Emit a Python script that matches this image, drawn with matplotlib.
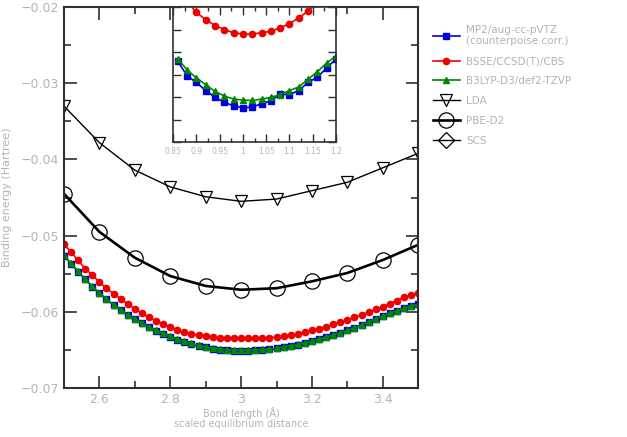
import numpy as np
import matplotlib
matplotlib.use("Agg")
import matplotlib.pyplot as plt

# ---- data ----
x_fine = np.round(np.arange(2.5, 3.5001, 0.02), 2)
e_blue = [-0.05263, -0.05368, -0.05473, -0.05574, -0.05670, -0.05758, -0.05836, -0.05911,
          -0.05976, -0.06042, -0.06099, -0.06151, -0.06204, -0.06248, -0.06291, -0.06331,
          -0.06366, -0.06396, -0.06423, -0.06449, -0.06466, -0.06484, -0.06497, -0.06506,
          -0.06510, -0.06510, -0.06510, -0.06506, -0.06501, -0.06493, -0.06480, -0.06466,
          -0.06449, -0.06431, -0.06409, -0.06387, -0.06361, -0.06335, -0.06304, -0.06274,
          -0.06243, -0.06208, -0.06173, -0.06133, -0.06094, -0.06055, -0.06020, -0.05985,
          -0.05954, -0.05928, -0.05902]
e_red = [-0.05115, -0.05215, -0.05325, -0.05434, -0.05517, -0.05609, -0.05692, -0.05762,
         -0.05828, -0.05898, -0.05959, -0.06020, -0.06073, -0.06116, -0.06164, -0.06195,
         -0.06239, -0.06265, -0.06291, -0.06304, -0.06318, -0.06335, -0.06344, -0.06348,
         -0.06348, -0.06348, -0.06348, -0.06348, -0.06348, -0.06340, -0.06331, -0.06318,
         -0.06304, -0.06291, -0.06270, -0.06243, -0.06221, -0.06195, -0.06164, -0.06138,
         -0.06108, -0.06073, -0.06038, -0.06007, -0.05968, -0.05933, -0.05893, -0.05854,
         -0.05810, -0.05780, -0.05758]
e_green = [-0.05258, -0.05363, -0.05468, -0.05569, -0.05665, -0.05752, -0.05830, -0.05905,
           -0.05970, -0.06036, -0.06093, -0.06145, -0.06197, -0.06241, -0.06284, -0.06323,
           -0.06358, -0.06388, -0.06414, -0.06440, -0.06457, -0.06475, -0.06488, -0.06497,
           -0.06501, -0.06502, -0.06502, -0.06499, -0.06494, -0.06487, -0.06475, -0.06461,
           -0.06445, -0.06428, -0.06406, -0.06384, -0.06359, -0.06333, -0.06302, -0.06272,
           -0.06241, -0.06206, -0.06171, -0.06131, -0.06092, -0.06053, -0.06018, -0.05983,
           -0.05952, -0.05925, -0.05898]

x_coarse = np.round(np.arange(2.5, 3.5001, 0.1), 1)
e_tri = [-0.0330, -0.0378, -0.0414, -0.0436, -0.0449, -0.0455, -0.0452, -0.0441,
         -0.0430, -0.0411, -0.0392]
e_circ = [-0.0445, -0.0495, -0.0529, -0.0553, -0.0566, -0.0571, -0.0569, -0.0560,
          -0.0549, -0.0532, -0.0512]

# inset (scaled distance)
x_in = np.round(np.arange(0.86, 1.2001, 0.02), 2)
in_blue = [-0.06410, -0.06442, -0.06457, -0.06475, -0.06490, -0.06501, -0.06509, -0.06513,
           -0.06512, -0.06504, -0.06498, -0.06483, -0.06484, -0.06475, -0.06457, -0.06445,
           -0.06425, -0.06405]
in_green = [-0.06405, -0.06429, -0.06447, -0.06462, -0.06477, -0.06487, -0.06494, -0.06496,
            -0.06497, -0.06494, -0.06490, -0.06484, -0.06475, -0.06467, -0.06450, -0.06433,
            -0.06414, -0.06398]
in_red = [-0.06229, -0.06277, -0.06302, -0.06318, -0.06331, -0.06340, -0.06347, -0.06350,
          -0.06350, -0.06347, -0.06344, -0.06336, -0.06327, -0.06314, -0.06299, -0.06281,
          -0.06259, -0.06233]

labels = ["MP2/aug-cc-pVTZ\n(counterpoise corr.)",
          "BSSE/CCSD(T)/CBS",
          "B3LYP-D3/def2-TZVP",
          "LDA",
          "PBE-D2",
          "SCS"]

txt = '#b4b4b4'
spine = '#303030'

fig = plt.figure(figsize=(6.27, 4.37), dpi=100)
ax = fig.add_axes([0.102, 0.112, 0.565, 0.872])

ax.plot(x_fine, e_blue, '-s', color='#0000dd', ms=4, lw=1.2, label=labels[0])
ax.plot(x_fine, e_red, '-o', color='#ee0000', ms=4.5, lw=1.2, label=labels[1])
ax.plot(x_fine, e_green, '-^', color='#008800', ms=4.5, lw=1.2, label=labels[2])
ax.plot(x_coarse, e_tri, '-v', color='black', mfc='none', ms=9, mew=0.9, lw=1.0,
        label=labels[3])
ax.plot(x_coarse, e_circ, '-o', color='black', mfc='none', ms=11, mew=0.9, lw=1.9,
        label=labels[4])
ax.plot([], [], '-D', color='black', mfc='none', ms=8, mew=0.9, lw=1.0, label=labels[5])

ax.set_xlim(2.5, 3.5)
ax.set_ylim(-0.07, -0.02)
ax.set_xticks([2.6, 2.8, 3.0, 3.2, 3.4])
ax.set_xticklabels(['2.6', '2.8', '3', '3.2', '3.4'])
ax.set_xticks(np.arange(2.5, 3.51, 0.1), minor=True)
ax.set_yticks(np.arange(-0.07, -0.0199, 0.01))
ax.set_yticks(np.arange(-0.07, -0.0199, 0.005), minor=True)
ax.tick_params(which='both', direction='in', top=True, right=True, colors=spine,
               labelcolor=txt, labelsize=9, width=1.2)
ax.tick_params(which='major', length=9)
ax.tick_params(which='minor', length=5)
for s in ax.spines.values():
    s.set_linewidth(1.5)
    s.set_color(spine)
ax.set_xlabel('Bond length (Å)\nscaled equilibrium distance', color=txt, fontsize=7,
              linespacing=1.0, labelpad=1)
ax.set_ylabel('Binding energy (Hartree)', color=txt, fontsize=8, labelpad=6)

# inset
axi = fig.add_axes([0.276, 0.674, 0.260, 0.310])
axi.plot(x_in, in_blue, '-s', color='#0000dd', ms=4, lw=1.2)
axi.plot(x_in, in_red, '-o', color='#ee0000', ms=4.5, lw=1.2)
axi.plot(x_in, in_green, '-^', color='#008800', ms=4.5, lw=1.2)
axi.set_xlim(0.85, 1.2)
axi.set_ylim(-0.0659, -0.0629)
axi.set_xticks(np.arange(0.85, 1.2001, 0.05))
axi.set_xticklabels(['0.85', '0.9', '0.95', '1', '1.05', '1.1', '1.15', '1.2'])
axi.set_xticks(np.arange(0.85, 1.2001, 0.025), minor=True)
axi.set_yticks(np.arange(-0.0659, -0.0628, 0.0005))
axi.tick_params(which='both', direction='in', top=True, right=True, colors=spine,
                labelcolor=txt, labelsize=5.5, width=1.0, labelleft=False)
axi.tick_params(which='major', length=6)
axi.tick_params(which='minor', length=3)
for s in axi.spines.values():
    s.set_linewidth(1.2)
    s.set_color(spine)

fig.legend(*ax.get_legend_handles_labels(), loc='upper left',
           bbox_to_anchor=(0.675, 0.965), frameon=False, fontsize=7.5,
           labelcolor=txt, handlelength=2.6, handletextpad=0.6, labelspacing=0.95)

fig.savefig('out.png', dpi=100)
